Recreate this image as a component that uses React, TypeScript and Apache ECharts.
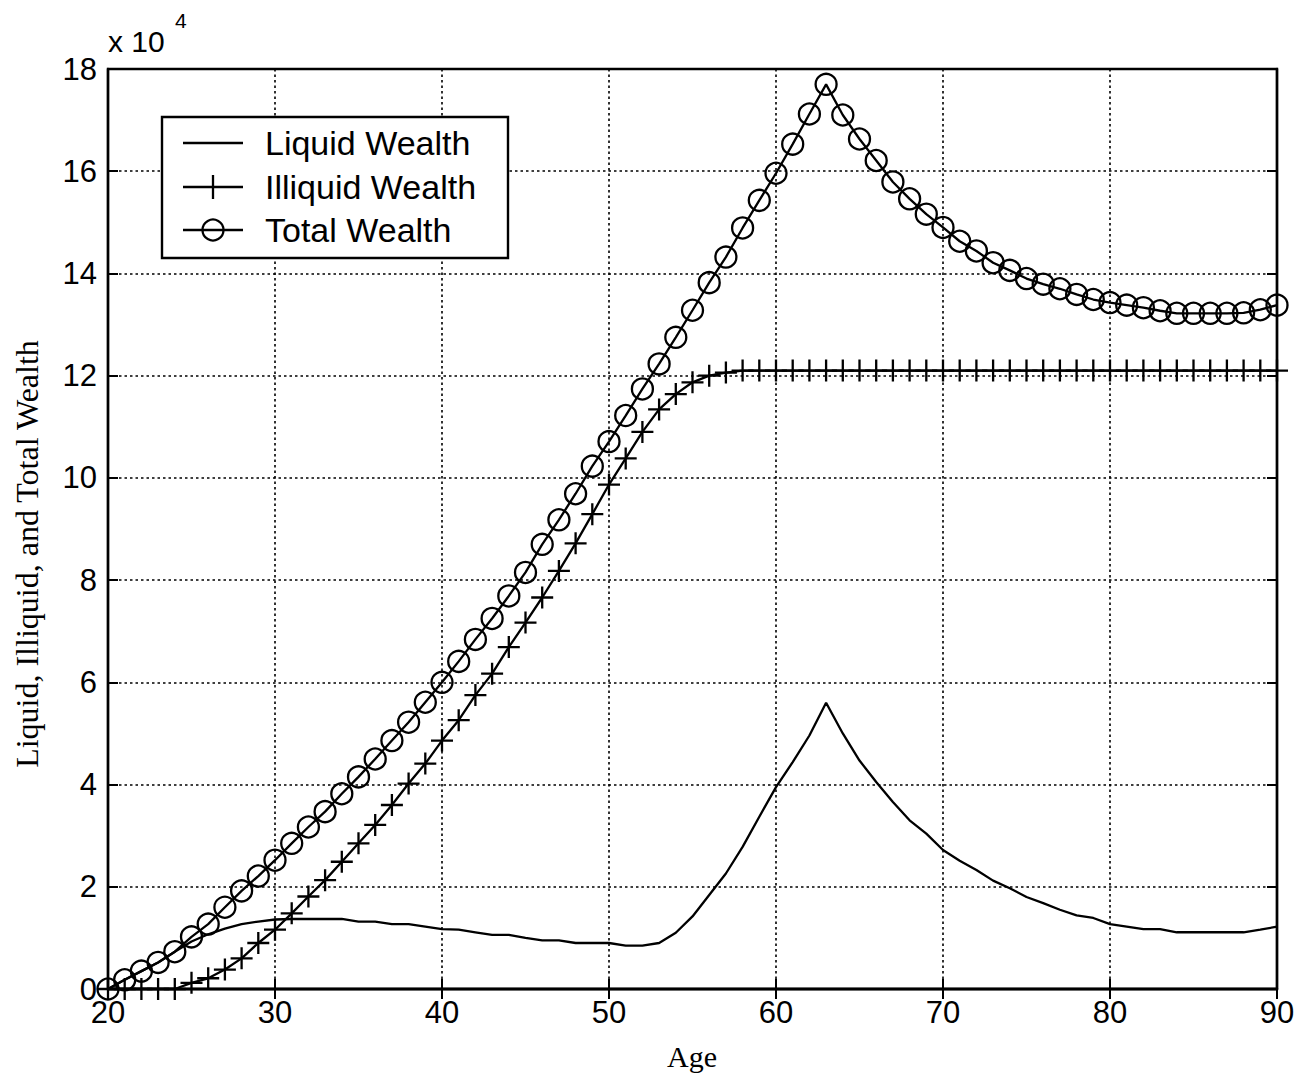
import React, { useEffect, useRef } from "react";
import * as echarts from "echarts";

// Ages (x axis)
const ages: number[] = [];
for (let a = 20; a <= 90; a++) ages.push(a);

// Values in units of 10^4
const liquidWealth = [
  0, 0.18, 0.35, 0.52, 0.73, 0.93, 1.07, 1.18, 1.27, 1.32,
  1.36, 1.37, 1.37, 1.37, 1.37, 1.32, 1.32, 1.27, 1.27, 1.22,
  1.17, 1.16, 1.11, 1.06, 1.06, 1.0, 0.95, 0.95, 0.9, 0.9,
  0.9, 0.85, 0.85, 0.9, 1.1, 1.42, 1.84, 2.26, 2.78, 3.37,
  3.95, 4.44, 4.96, 5.6, 5.0, 4.47, 4.05, 3.66, 3.3, 3.04,
  2.72, 2.51, 2.33, 2.12, 1.97, 1.8, 1.68, 1.55, 1.44, 1.39,
  1.27, 1.22, 1.17, 1.17, 1.11, 1.11, 1.11, 1.11, 1.11, 1.16,
  1.22,
];

const illiquidWealth = [
  0, 0, 0, 0, 0, 0.12, 0.21, 0.38, 0.6, 0.9,
  1.16, 1.48, 1.81, 2.13, 2.49, 2.85, 3.21, 3.6, 4.02, 4.41,
  4.86, 5.26, 5.75, 6.17, 6.69, 7.17, 7.66, 8.18, 8.72, 9.29,
  9.87, 10.38, 10.9, 11.34, 11.64, 11.87, 12.0, 12.06, 12.1, 12.1,
  12.1, 12.1, 12.1, 12.1, 12.1, 12.1, 12.1, 12.1, 12.1, 12.1,
  12.1, 12.1, 12.1, 12.1, 12.1, 12.1, 12.1, 12.1, 12.1, 12.1,
  12.1, 12.1, 12.1, 12.1, 12.1, 12.1, 12.1, 12.1, 12.1, 12.1,
  12.1,
];

const totalWealth = [
  0, 0.18, 0.35, 0.52, 0.73, 1.02, 1.27, 1.6, 1.92, 2.21,
  2.52, 2.85, 3.17, 3.47, 3.82, 4.15, 4.5, 4.86, 5.22, 5.61,
  6.0, 6.41, 6.84, 7.25, 7.69, 8.15, 8.7, 9.18, 9.69, 10.23,
  10.71, 11.22, 11.74, 12.23, 12.75, 13.28, 13.82, 14.32, 14.89, 15.43,
  15.96, 16.53, 17.12, 17.7, 17.1, 16.63, 16.21, 15.79, 15.46, 15.16,
  14.9, 14.63, 14.44, 14.21, 14.06, 13.9, 13.79, 13.7, 13.59, 13.49,
  13.43, 13.38, 13.33, 13.27, 13.22, 13.22, 13.22, 13.22, 13.23, 13.29,
  13.38,
];

const seriesNames = ["Liquid Wealth", "Illiquid Wealth", "Total Wealth"];
const xTicks = { min: 20, max: 90, interval: 10 };
const yTicks = { min: 0, max: 18, interval: 2 };

const SANS = "'Liberation Sans', Arial, Helvetica, sans-serif";
const SERIF = "'Liberation Serif', 'Times New Roman', Times, serif";
const PLUS = "path://M0,10L20,10M10,0L10,20";

export default function App() {
  const ref = useRef<HTMLDivElement>(null);

  useEffect(() => {
    if (!ref.current) return;
    const chart = echarts.init(ref.current, null, { renderer: "svg" });

    const pair = (vals: number[]) => ages.map((a, i) => [a, vals[i]]);

    const gridLine = { show: true, lineStyle: { color: "#000", width: 1.6, type: [2.5, 3] as any } };
    const tick = { show: true, inside: true, length: 10, lineStyle: { color: "#000", width: 2 } };
    const axisLine = { show: true, lineStyle: { color: "#000", width: 2.4 } };
    const label = { color: "#000", fontFamily: SANS, fontSize: 31 };
    const LW = 2.3;

    const legendX = 162;
    const legendY = 117;
    const rowY = [143, 187, 230];
    const legendGraphics: any[] = [
      {
        type: "rect",
        shape: { x: legendX, y: legendY, width: 346, height: 141 },
        style: { fill: "#fff", stroke: "#000", lineWidth: 2.4 },
        z: 100,
      },
    ];
    rowY.forEach((y, i) => {
      legendGraphics.push({
        type: "line",
        shape: { x1: 183, y1: y, x2: 243, y2: y },
        style: { stroke: "#000", lineWidth: LW },
        z: 101,
      });
      legendGraphics.push({
        type: "text",
        x: 265,
        y: y,
        style: {
          text: seriesNames[i],
          fontFamily: SANS,
          fontSize: 34,
          fill: "#000",
          verticalAlign: "middle",
          align: "left",
        },
        z: 101,
      });
    });
    legendGraphics.push({
      type: "line",
      shape: { x1: 213, y1: rowY[1] - 12, x2: 213, y2: rowY[1] + 12 },
      style: { stroke: "#000", lineWidth: LW },
      z: 101,
    });
    legendGraphics.push({
      type: "circle",
      shape: { cx: 213, cy: rowY[2], r: 10.5 },
      style: { fill: "none", stroke: "#000", lineWidth: LW },
      z: 101,
    });

    const option: any = {
      animation: false,
      backgroundColor: "#fff",
      grid: {
        left: 108,
        right: 37,
        top: 69,
        bottom: 85,
        show: true,
        borderColor: "#000",
        borderWidth: 2.4,
        backgroundColor: "transparent",
      },
      xAxis: [
        {
          type: "value",
          min: xTicks.min,
          max: xTicks.max,
          interval: xTicks.interval,
          axisLine,
          axisTick: tick,
          splitLine: gridLine,
          axisLabel: { ...label, margin: 8 },
        },
        {
          type: "value",
          position: "top",
          min: xTicks.min,
          max: xTicks.max,
          interval: xTicks.interval,
          axisLine,
          axisTick: tick,
          splitLine: { show: false },
          axisLabel: { show: false },
        },
      ],
      yAxis: [
        {
          type: "value",
          min: yTicks.min,
          max: yTicks.max,
          interval: yTicks.interval,
          axisLine,
          axisTick: tick,
          splitLine: gridLine,
          axisLabel: { ...label, margin: 11 },
        },
        {
          type: "value",
          position: "right",
          min: yTicks.min,
          max: yTicks.max,
          interval: yTicks.interval,
          axisLine,
          axisTick: tick,
          splitLine: { show: false },
          axisLabel: { show: false },
        },
      ],
      series: [
        {
          name: seriesNames[0],
          type: "line",
          data: pair(liquidWealth),
          symbol: "none",
          lineStyle: { color: "#000", width: LW },
          itemStyle: { color: "#000" },
          z: 3,
        },
        {
          name: seriesNames[1],
          type: "line",
          data: pair(illiquidWealth),
          symbol: PLUS,
          symbolSize: 22,
          showAllSymbol: true,
          lineStyle: { color: "#000", width: LW },
          itemStyle: { color: "transparent", borderColor: "#000", borderWidth: LW },
          z: 3,
        },
        {
          name: seriesNames[2],
          type: "line",
          data: pair(totalWealth),
          symbol: "circle",
          symbolSize: 21,
          showAllSymbol: true,
          lineStyle: { color: "#000", width: LW },
          itemStyle: { color: "transparent", borderColor: "#000", borderWidth: LW },
          z: 3,
        },
      ],
      graphic: [
        {
          type: "text",
          x: 108,
          y: 41,
          style: { text: "x 10", fontFamily: SANS, fontSize: 30, fill: "#000", verticalAlign: "middle", align: "left" },
        },
        {
          type: "text",
          x: 175,
          y: 20,
          style: { text: "4", fontFamily: SANS, fontSize: 21, fill: "#000", verticalAlign: "middle", align: "left" },
        },
        {
          type: "text",
          x: 27,
          y: 554,
          rotation: Math.PI / 2,
          style: {
            text: "Liquid, Illiquid, and Total Wealth",
            fontFamily: SERIF,
            fontSize: 32,
            fill: "#000",
            align: "center",
            verticalAlign: "middle",
          },
        },
        {
          type: "text",
          x: 692,
          y: 1056,
          style: { text: "Age", fontFamily: SERIF, fontSize: 30, fill: "#000", align: "center", verticalAlign: "middle" },
        },
        ...legendGraphics,
      ],
    };

    chart.setOption(option);
    return () => chart.dispose();
  }, []);

  return (
    <div
      ref={ref}
      style={{ position: "absolute", left: 0, top: 0, width: 1314, height: 1074, background: "#fff" }}
    />
  );
}
